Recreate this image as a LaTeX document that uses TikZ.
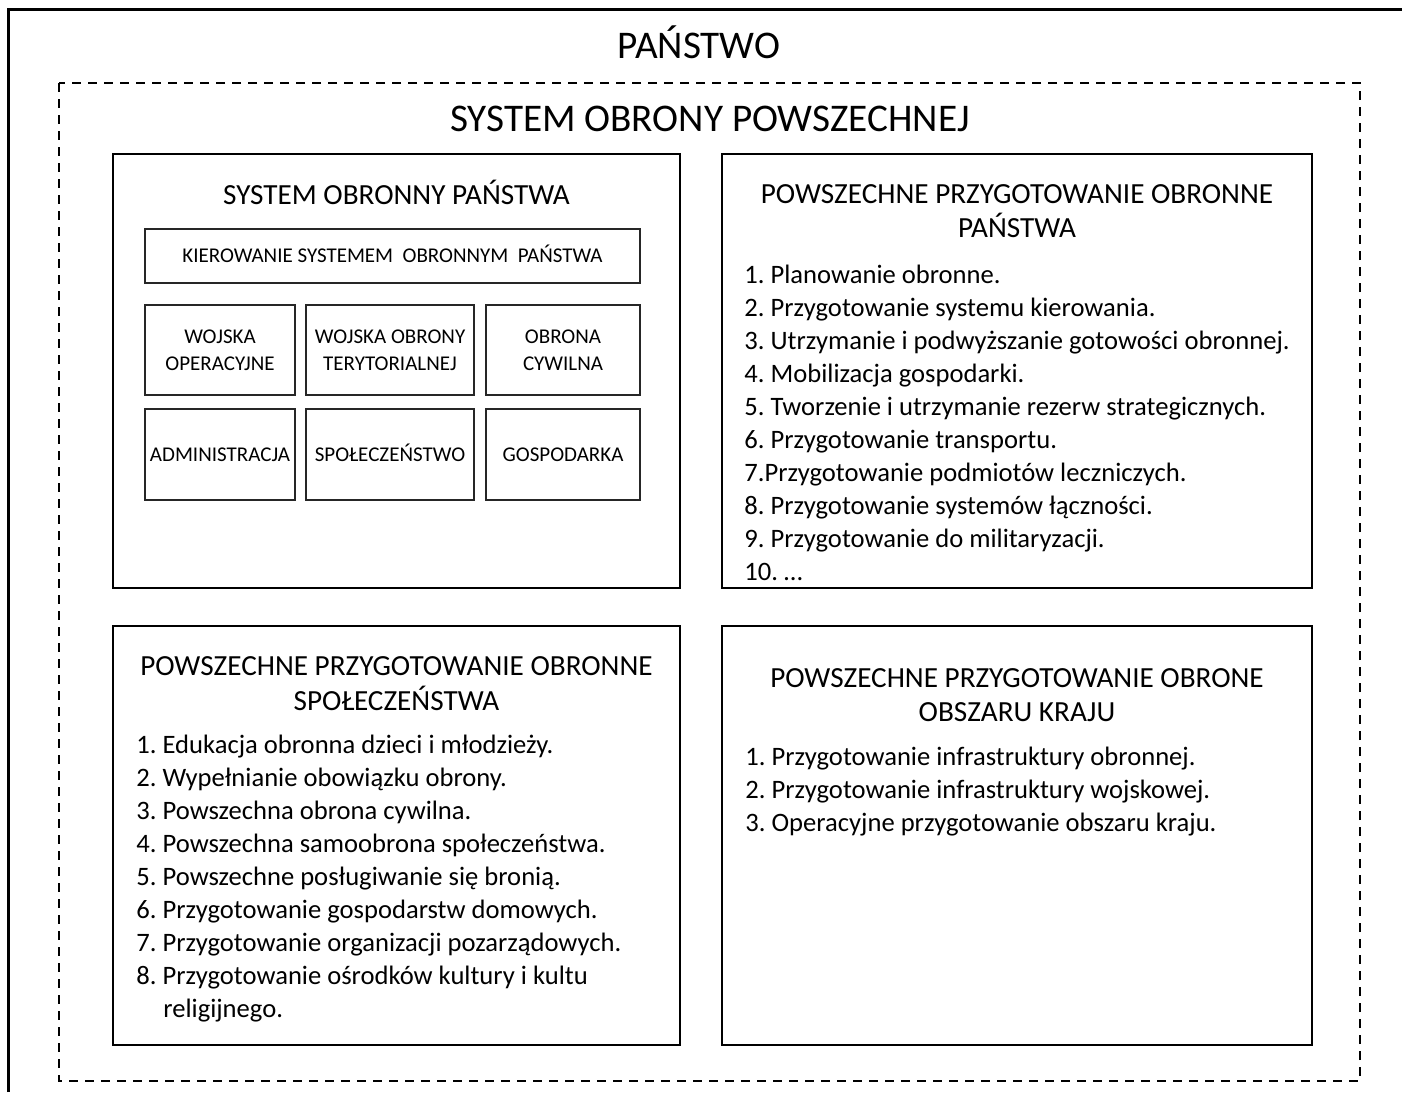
\documentclass[tikz,border=0pt]{standalone}
\usepackage{fontspec}
\setmainfont{Carlito}
\frenchspacing
\begin{document}
\begin{tikzpicture}[x=0.5pt,y=-0.5pt,
  frame/.style={draw,line width=0.8pt,inner sep=0pt},
  inbox/.style={draw=black!85,line width=0.55pt,inner sep=0pt,align=center,
    font=\fontsize{10.5}{13.5}\selectfont},
  oneline/.style={text height=6.8pt,text depth=0pt},
  dashbox/.style={line width=1pt,dash pattern=on 4.5pt off 3.5pt},
  bigt/.style={font=\fontsize{19.6}{23}\selectfont,anchor=base,inner sep=0pt},
  ttl/.style={font=\fontsize{14.6}{17}\selectfont,anchor=base,inner sep=0pt},
  itm/.style={font=\fontsize{13.3}{16}\selectfont,anchor=base west,inner sep=0pt}
]
\useasboundingbox[fill=white] (0,0) rectangle (1402,1092);
% outer frame (only left and top edges visible)
\draw[line width=1.4pt] (8.7,1092) -- (8.7,9.5) -- (1402,9.5);
\node[bigt] (panstwo) at (699,58.3) {PAŃSTWO};
% dashed system frame
\draw[dashbox] (59,83) rectangle (1360,1081);
\node[bigt] (sop) at (710,131.7) {SYSTEM OBRONY POWSZECHNEJ};

% four big boxes
\node[frame,minimum width=283.5pt,minimum height=217pt] (b1) at (396.5,371) {};
\node[frame,minimum width=295pt,minimum height=217pt] (b2) at (1017,371) {};
\node[frame,minimum width=283.5pt,minimum height=209.5pt] (b3) at (396.5,835.5) {};
\node[frame,minimum width=295pt,minimum height=209.5pt] (b4) at (1017,835.5) {};

% box 1
\node[ttl] (t1) at (396.5,204) {SYSTEM OBRONNY PAŃSTWA};
\node[inbox,oneline,minimum width=247.5pt,minimum height=27pt] (kier) at (392.5,256)
  {KIEROWANIE SYSTEMEM\ \ OBRONNYM\ \ PAŃSTWA};
\node[inbox,minimum width=75pt,minimum height=45pt] (wo) at (220,350) {WOJSKA\\OPERACYJNE};
\node[inbox,minimum width=84pt,minimum height=45pt] (wot) at (390,350) {WOJSKA OBRONY\\TERYTORIALNEJ};
\node[inbox,minimum width=77pt,minimum height=45pt] (oc) at (563,350) {OBRONA\\CYWILNA};
\node[inbox,oneline,minimum width=75pt,minimum height=45.5pt] (adm) at (220,454.5) {ADMINISTRACJA};
\node[inbox,oneline,minimum width=84pt,minimum height=45.5pt] (spo) at (390,454.5) {SPOŁECZEŃSTWO};
\node[inbox,oneline,minimum width=77pt,minimum height=45.5pt] (gos) at (563,454.5) {GOSPODARKA};

% box 2
\node[ttl] (t2a) at (1017,203) {POWSZECHNE PRZYGOTOWANIE OBRONNE};
\node[ttl] (t2b) at (1017,237) {PAŃSTWA};
\foreach \t [count=\i] in {
  1. Planowanie obronne.,
  2. Przygotowanie systemu kierowania.,
  3. Utrzymanie i podwyższanie gotowości obronnej.,
  4. Mobilizacja gospodarki.,
  5. Tworzenie i utrzymanie rezerw strategicznych.,
  6. Przygotowanie transportu.,
  7.Przygotowanie podmiotów leczniczych.,
  8. Przygotowanie systemów łączności.,
  9. Przygotowanie do militaryzacji.,
  10. …}
  \node[itm] (p\i) at (744,{283+33.1*(\i-1)}) {\t};

% box 3
\node[ttl] (t3a) at (396.5,675) {POWSZECHNE PRZYGOTOWANIE OBRONNE};
\node[ttl] (t3b) at (396.5,710) {SPOŁECZEŃSTWA};
\foreach \t [count=\i] in {
  1. Edukacja obronna dzieci i młodzieży.,
  2. Wypełnianie obowiązku obrony.,
  3. Powszechna obrona cywilna.,
  4. Powszechna samoobrona społeczeństwa.,
  5. Powszechne posługiwanie się bronią.,
  6. Przygotowanie gospodarstw domowych.,
  7. Przygotowanie organizacji pozarządowych.,
  8. Przygotowanie ośrodków kultury i kultu}
  \node[itm] (s\i) at (136,{753+33*(\i-1)}) {\t};
\node[itm] (s9) at (163,{753+33*8}) {religijnego.};

% box 4
\node[ttl] (t4a) at (1017,687) {POWSZECHNE PRZYGOTOWANIE OBRONE};
\node[ttl] (t4b) at (1017,721) {OBSZARU KRAJU};
\foreach \t [count=\i] in {
  1. Przygotowanie infrastruktury obronnej.,
  2. Przygotowanie infrastruktury wojskowej.,
  3. Operacyjne przygotowanie obszaru kraju.}
  \node[itm] (k\i) at (745,{765+33*(\i-1)}) {\t};
\end{tikzpicture}
\end{document}
